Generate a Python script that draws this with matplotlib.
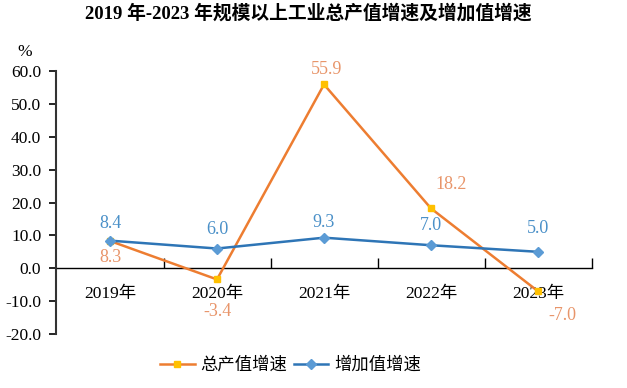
import matplotlib
matplotlib.use("Agg")
import matplotlib.pyplot as plt
from matplotlib.ticker import FixedLocator, NullFormatter

plt.rcParams['font.family'] = ['Liberation Serif', 'Noto Sans CJK SC', 'DejaVu Sans']

years = ["2019年", "2020年", "2021年", "2022年", "2023年"]
output_growth = [8.3, -3.4, 55.9, 18.2, -7.0]
value_added_growth = [8.4, 6.0, 9.3, 7.0, 5.0]
yticks = [-20, -10, 0, 10, 20, 30, 40, 50, 60]

fig = plt.figure(figsize=(6.27, 3.88), dpi=100)
ax = fig.add_axes([56.5/627, 1-334/388, (591.5-56.5)/627, (334-71)/388])

x = list(range(len(years)))
orange = "#ED7D31"
blue = "#2E75B6"
ax.plot(x, output_growth, color=orange, lw=1.8, marker='s', ms=4.5,
        mfc="#FFC000", mec="#FFC000", label="总产值增速", zorder=3)
ax.plot(x, value_added_growth, color=blue, lw=1.8, marker='D', ms=5,
        mfc="#5B9BD5", mec="#5B9BD5", label="增加值增速", zorder=4)

ax.set_xlim(-0.5, 4.5)
ax.set_ylim(-20, 60)
ax.set_yticks(yticks)
ax.set_yticklabels([f"{v:.1f}" for v in yticks], fontsize=12.5)
ax.tick_params(axis='y', direction='out', length=5, width=1.2, pad=6)

for s in ['top', 'right']:
    ax.spines[s].set_visible(False)
ax.spines['left'].set_linewidth(1.5)
ax.spines['left'].set_color('#333333')
ax.spines['bottom'].set_position(('data', 0))
ax.spines['bottom'].set_linewidth(1.0)

ax.xaxis.set_major_locator(FixedLocator([0.5, 1.5, 2.5, 3.5, 4.5]))
ax.xaxis.set_major_formatter(NullFormatter())
ax.xaxis.set_minor_locator(FixedLocator(x))
ax.set_xticklabels(years, minor=True, fontsize=12.5)
ax.tick_params(axis='x', which='major', direction='in', length=7, width=1)
ax.tick_params(axis='x', which='minor', length=0, pad=13)

lab_orange = "#E8956A"
lab_blue = "#4A90C8"
b_offsets = [(0, 17), (0, 19), (0, 15), (0, 20), (0, 23)]
for xi, v, (dx, dy) in zip(x, value_added_growth, b_offsets):
    ax.annotate(f"{v:.1f}", (xi, v), xytext=(dx, dy), textcoords='offset pixels',
                ha='center', va='center', color=lab_blue, fontsize=13)
o_offsets = [(0, -17), (0, -32), (3, 15), (20, 24), (24, -24)]
for xi, v, (dx, dy) in zip(x, output_growth, o_offsets):
    ax.annotate(f"{v:.1f}", (xi, v), xytext=(dx, dy), textcoords='offset pixels',
                ha='center', va='center', color=lab_orange, fontsize=13)

fig.text(25/627, 1-52/388, "%", ha='center', va='center', fontsize=12.5)
fig.suptitle("2019 年-2023 年规模以上工业总产值增速及增加值增速", x=308/627, y=1-13/388,
             va='center', fontsize=13.5, fontweight='bold')

fig.legend(loc='center', bbox_to_anchor=(290.5/627, 1-365/388), ncol=2, frameon=False,
           handlelength=2.0, columnspacing=0.35, handletextpad=0.35,
           prop={'family': ['Noto Sans CJK SC'], 'size': 12.5})

fig.savefig("out.png", dpi=100)
